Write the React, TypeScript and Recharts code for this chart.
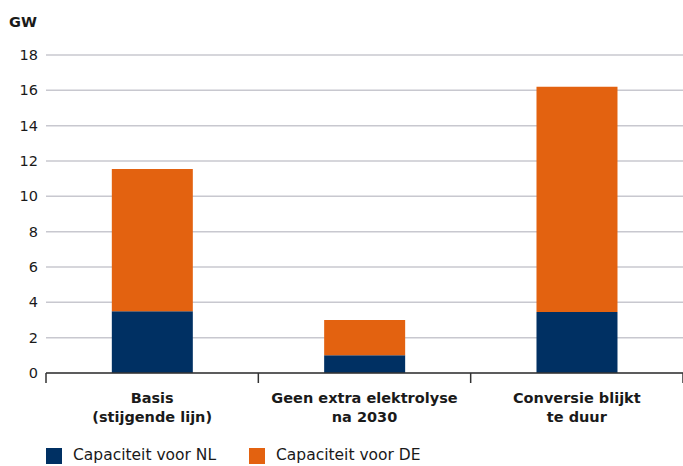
import React from 'react';
import { BarChart, Bar, XAxis, YAxis, CartesianGrid, Legend } from 'recharts';

const scenarios = ['Basis\n(stijgende lijn)', 'Geen extra elektrolyse\nna 2030', 'Conversie blijkt\nte duur'];
const capNL = [3.5, 1.0, 3.45];
const capDE = [8.05, 2.0, 12.75];
const yTicks = [0, 2, 4, 6, 8, 10, 12, 14, 16, 18];

const NAVY = '#003063';
const ORANGE = '#e36210';
const FONT = '"DejaVu Sans", sans-serif';

const data = scenarios.map((s, i) => ({ name: s, nl: capNL[i], de: capDE[i] }));

const CatTick = (props: any) => {
  const { x, y, payload, index, visibleTicksCount } = props;
  const off = payload.offset ?? 0;
  const lines = String(payload.value).split('\n');
  return (
    <g>
      <line x1={x - off} x2={x - off} y1={y} y2={y + 10} stroke="#333" strokeWidth={1.5} />
      {index === visibleTicksCount - 1 && (
        <line x1={x + off} x2={x + off} y1={y} y2={y + 10} stroke="#333" strokeWidth={1.5} />
      )}
      <text textAnchor="middle" fontFamily={FONT} fontWeight="bold" fontSize={14.5} fill="#1a1a1a">
        {lines.map((l, i) => (
          <tspan key={i} x={x} y={y + 30 + i * 19}>{l}</tspan>
        ))}
      </text>
    </g>
  );
};

const LegendBox = () => (
  <div style={{ display: 'flex', paddingLeft: 46, paddingTop: 14, height: 19, fontFamily: FONT, fontSize: 15.5, color: '#1a1a1a', lineHeight: '17px' }}>
    {[{ c: NAVY, t: 'Capaciteit voor NL' }, { c: ORANGE, t: 'Capaciteit voor DE' }].map((it) => (
      <div key={it.t} style={{ display: 'flex', alignItems: 'flex-start', width: 203 }}>
        <span style={{ width: 16, height: 16, background: it.c, marginRight: 11, flexShrink: 0, marginTop: 1 }} />
        <span>{it.t}</span>
      </div>
    ))}
  </div>
);

export default function App() {
  return (
    <div style={{ position: 'absolute', left: 0, top: 0, width: 683, height: 466, overflow: 'hidden', background: '#fff' }}>
      <BarChart width={683} height={466} data={data} margin={{ top: 55, right: 0, bottom: 0, left: 0 }} barCategoryGap="31%">
        <CartesianGrid vertical={false} stroke="#c8c8cf" strokeWidth={1.5} />
        <XAxis
          dataKey="name"
          height={60}
          tickSize={0}
          tickMargin={0}
          tickLine={false}
          stroke="#333"
          strokeWidth={1.5}
          tick={<CatTick />}
          interval={0}
        />
        <YAxis
          width={46}
          domain={[0, 18]}
          ticks={yTicks}
          axisLine={false}
          tickLine={false}
          tick={{ fontFamily: FONT, fontSize: 14.5, fill: '#1a1a1a' }}
          label={{ value: 'GW', position: 'insideTopLeft', offset: 0, dx: 9, dy: -38, style: { fontFamily: FONT, fontWeight: 'bold', fontSize: 14.5, fill: '#1a1a1a' } }}
        />
        <Legend verticalAlign="bottom" align="left" content={<LegendBox />} wrapperStyle={{ left: 0, width: 683 }} />
        <Bar dataKey="nl" stackId="a" fill={NAVY} isAnimationActive={false} name="Capaciteit voor NL" />
        <Bar dataKey="de" stackId="a" fill={ORANGE} isAnimationActive={false} name="Capaciteit voor DE" />
      </BarChart>
    </div>
  );
}
